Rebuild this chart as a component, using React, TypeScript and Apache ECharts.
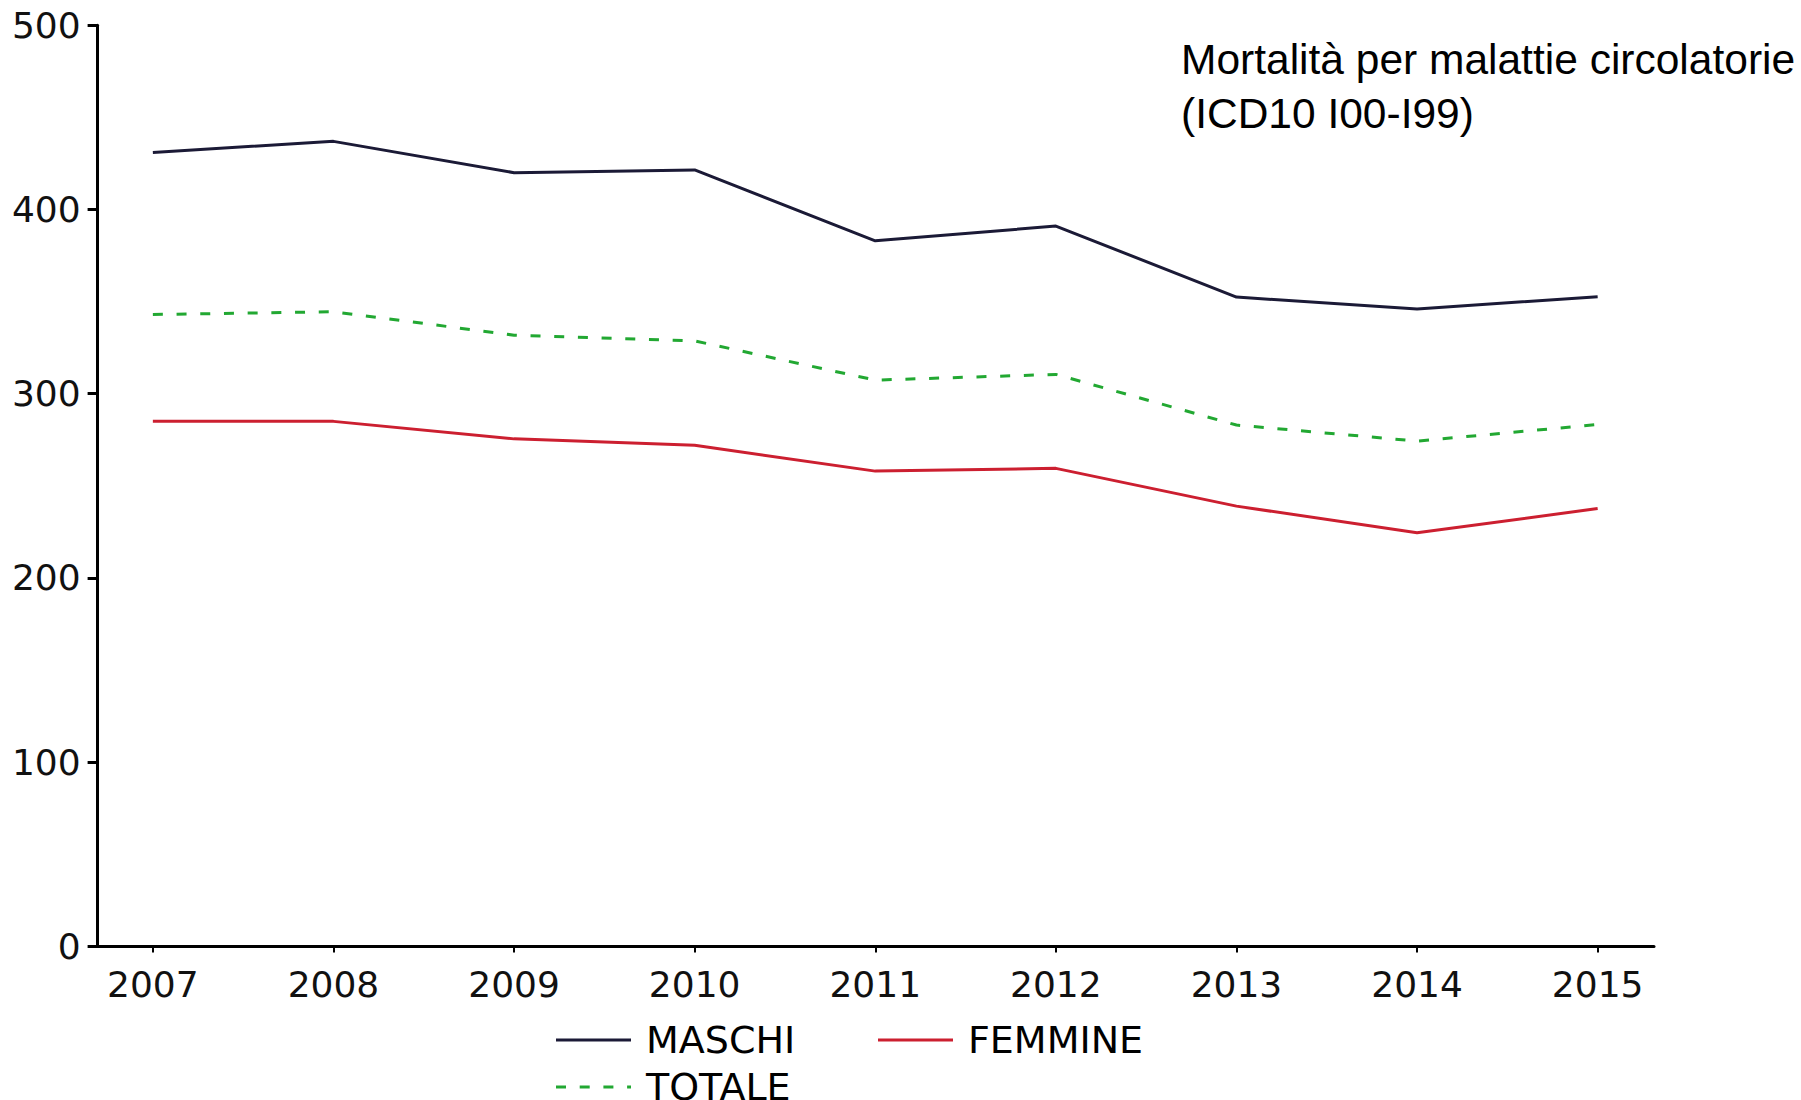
import React, { useEffect, useRef } from "react";
import * as echarts from "echarts";

const years = [2007, 2008, 2009, 2010, 2011, 2012, 2013, 2014, 2015];
const maschi = [431, 437, 420, 421.5, 383, 391, 352.5, 346, 352.7];
const femmine = [285, 285, 275.5, 272, 258, 259.5, 239, 224.5, 237.7];
const totale = [343, 344.5, 331.8, 328.7, 307.4, 310.5, 283, 274.3, 283.3];
const yTicks = [0, 100, 200, 300, 400, 500];
const titleLines = ["Mortalità per malattie circolatorie", "(ICD10 I00-I99)"];

const pair = (vals: number[]) => years.map((y, i) => [y, vals[i]]);

const solidIcon = "path://M0,0h75v3h-75z";
const dashIcon = "path://M0,0h10v3h-10z M23.7,0h10v3h-10z M47.4,0h10v3h-10z M71.1,0h3.9v3h-3.9z";

export default function App() {
  const ref = useRef<HTMLDivElement>(null);
  useEffect(() => {
    document.body.style.margin = "0";
    document.body.style.overflow = "hidden";
    const chart = echarts.init(ref.current!, null, { renderer: "svg" });
    const axisFont = "DejaVu Sans";
    const legendBase = {
      left: 556,
      padding: 0,
      orient: "horizontal",
      itemWidth: 75,
      itemHeight: 3,
      itemGap: 10,
      textStyle: {
        fontFamily: axisFont,
        fontSize: 38,
        lineHeight: 32,
        color: "#000",
        width: 222,
        padding: [0, 0, 0, 10],
      },
    };
    chart.setOption({
      animation: false,
      backgroundColor: "#ffffff",
      title: {
        text: titleLines.join("\n"),
        left: 1181,
        top: 33,
        padding: 0,
        textStyle: {
          fontFamily: "Liberation Sans",
          fontSize: 42.5,
          lineHeight: 53.5,
          fontWeight: "normal",
          color: "#000",
        },
      },
      grid: { left: 97.6, right: 147, top: 25.3, bottom: 153.6, containLabel: false },
      legend: [
        {
          ...legendBase,
          top: 1021,
          data: [
            { name: "MASCHI", icon: solidIcon },
            { name: "FEMMINE", icon: solidIcon },
          ],
        },
        {
          ...legendBase,
          top: 1068,
          data: [{ name: "TOTALE", icon: dashIcon }],
        },
      ],
      xAxis: {
        type: "value",
        min: 2006.694,
        max: 2015.312,
        splitLine: { show: false },
        axisLine: { show: true, lineStyle: { color: "#000", width: 3 } },
        axisTick: {
          show: true,
          customValues: years,
          length: 6,
          lineStyle: { color: "#000", width: 2 },
        },
        axisLabel: {
          customValues: years,
          formatter: (v: number) => String(v),
          fontFamily: axisFont,
          fontSize: 36,
          color: "#111",
          margin: 20,
        },
      },
      yAxis: {
        type: "value",
        min: 0,
        max: 500,
        interval: 100,
        splitLine: { show: false },
        axisLine: { show: true, lineStyle: { color: "#000", width: 3 } },
        axisTick: { show: true, length: 10, lineStyle: { color: "#000", width: 3 } },
        axisLabel: {
          customValues: yTicks,
          fontFamily: axisFont,
          fontSize: 36,
          color: "#111",
          margin: 17,
        },
      },
      series: [
        {
          name: "MASCHI",
          type: "line",
          data: pair(maschi),
          symbol: "none",
          color: "#1b1a36",
          lineStyle: { color: "#1b1a36", width: 3 },
        },
        {
          name: "FEMMINE",
          type: "line",
          data: pair(femmine),
          symbol: "none",
          color: "#cc1f30",
          lineStyle: { color: "#cc1f30", width: 3 },
        },
        {
          name: "TOTALE",
          type: "line",
          data: pair(totale),
          symbol: "none",
          color: "#22a832",
          lineStyle: { color: "#22a832", width: 3, type: [10, 13.7] },
        },
      ],
    });
    return () => chart.dispose();
  }, []);
  return <div ref={ref} style={{ width: 1801, height: 1100 }} />;
}
